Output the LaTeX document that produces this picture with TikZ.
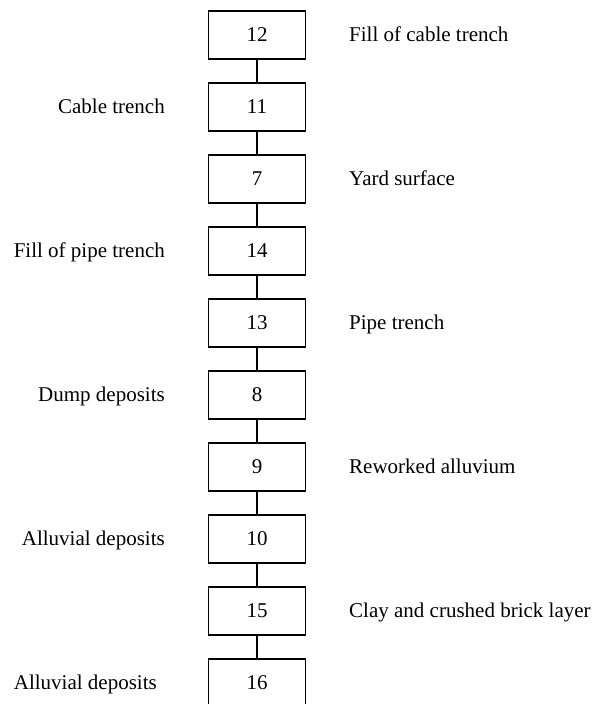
\documentclass[tikz,border=0pt]{standalone}
\usepackage{fontspec}
\setmainfont{Liberation Serif}
\begin{document}
\begin{tikzpicture}[x=1pt,y=-1pt,
  layerbox/.style={draw=black,line width=1.2pt,minimum width=97pt,minimum height=48pt,inner sep=0pt,font=\fontsize{21}{25}\selectfont},
  leftlbl/.style={anchor=base east,inner sep=0pt,font=\fontsize{21}{25}\selectfont},
  rightlbl/.style={anchor=base west,inner sep=0pt,font=\fontsize{21}{25}\selectfont},
  link/.style={draw=black,line width=1.2pt}]
\useasboundingbox (0,0) rectangle (596,704);
\clip (0,0) rectangle (596,704);
\foreach \n [count=\i from 0] in {12,11,7,14,13,8,9,10,15,16}{
  \node[layerbox] (b\n) at (257,35+72*\i) {\n};
}
\draw[link] (b12) -- (b11);
\draw[link] (b11) -- (b7);
\draw[link] (b7) -- (b14);
\draw[link] (b14) -- (b13);
\draw[link] (b13) -- (b8);
\draw[link] (b8) -- (b9);
\draw[link] (b9) -- (b10);
\draw[link] (b10) -- (b15);
\draw[link] (b15) -- (b16);
\node[rightlbl] (r12) at (349,41) {Fill of cable trench};
\node[leftlbl] (l11) at (165,113) {Cable trench};
\node[rightlbl] (r7) at (349,185) {Yard surface};
\node[leftlbl] (l14) at (165,257) {Fill of pipe trench};
\node[rightlbl] (r13) at (349,329) {Pipe trench};
\node[leftlbl] (l8) at (165,401) {Dump deposits};
\node[rightlbl] (r9) at (349,473) {Reworked alluvium};
\node[leftlbl] (l10) at (165,545) {Alluvial deposits};
\node[rightlbl] (r15) at (349,617) {Clay and crushed brick layer};
\node[leftlbl] (l16) at (157,689) {Alluvial deposits};
\end{tikzpicture}
\end{document}
